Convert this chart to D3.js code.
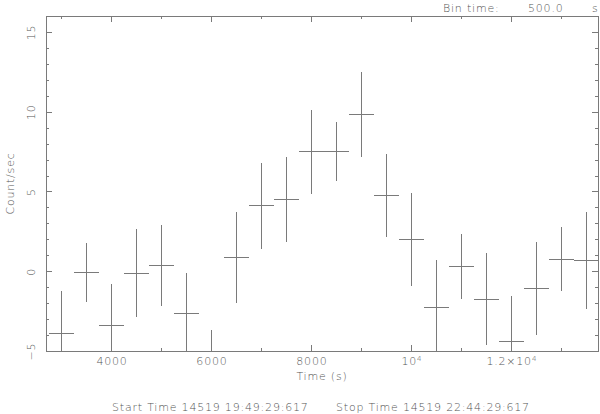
<!DOCTYPE html>
<html>
<head>
<meta charset="utf-8">
<script src="https://cdn.jsdelivr.net/npm/d3@7"></script>
<style>
body{margin:0;background:#fff;}
text{font-family:"DejaVu Sans",sans-serif;font-weight:200;fill:#555;font-size:11px;letter-spacing:0.8px;}
line,rect{shape-rendering:crispEdges;}
</style>
</head>
<body>
<svg id="svg" width="600" height="414"></svg>
<script>
var marginLeft=46, marginTop=16;
var width=598-marginLeft, height=351-marginTop;

// light curve, 500 s bins
var times=[3000,3500,4000,4500,5000,5500,6000,6500,7000,7500,8000,8500,9000,9500,10000,10500,11000,11500,12000,12500,13000,13500];
var rates=[-3.9,-0.06,-3.4,-0.12,0.35,-2.65,-6.5,0.85,4.1,4.48,7.5,7.5,9.8,4.75,1.98,-2.27,0.29,-1.75,-4.38,-1.08,0.75,0.69];
var errors=[2.65,1.85,2.6,2.75,2.55,2.55,2.8,2.87,2.7,2.65,2.63,1.87,2.66,2.63,2.9,2.96,2.06,2.9,2.8,2.9,2.02,3.05];
var halfBin=250;

var xMajor=[4000,6000,8000,10000,12000];
var xMinor=[3000,5000,7000,9000,11000,13000];
var xLabels=["4000","6000","8000","10^4","1.2\u00d710^4"];
var yMajor=[-5,0,5,10,15];
var yMinor=[-4,-3,-2,-1,1,2,3,4,6,7,8,9,11,12,13,14,16];

var x=d3.scaleLinear().domain([2690,13735]).range([0,width]);
var y=d3.scaleLinear().domain([-5,16]).range([height,0]);

var root=d3.select("#svg");
var svg=root.append("g").attr("transform","translate("+marginLeft+","+marginTop+")");

var lineColor="#7a7a7a";

// clip error bars to frame
svg.append("clipPath").attr("id","clip").append("rect").attr("width",width).attr("height",height);

function styleAxis(g){
    g.select(".domain").remove();
    g.selectAll("line").attr("stroke",lineColor);
}

// major + minor ticks, inward, on all 4 sides
svg.append("g").attr("transform","translate(0,"+height+")")
    .call(d3.axisBottom(x).tickValues(xMajor).tickSize(-6).tickPadding(6)
        .tickFormat((d,i)=>xLabels[i]))
    .call(styleAxis)
    .call(g=>g.selectAll("text").attr("fill",null).style("font-size","11px").each(function(){
        var t=d3.select(this), s=t.text();
        if(s.indexOf("^")>=0){
            var parts=s.split("^");
            t.text(null);
            t.append("tspan").text(parts[0]);
            t.append("tspan").attr("dy","-0.5em").style("font-size","7px").text(parts[1]);
        }
    }));
svg.append("g").attr("transform","translate(0,"+height+")")
    .call(d3.axisBottom(x).tickValues(xMinor).tickSize(-3).tickFormat(""))
    .call(styleAxis);
svg.append("g")
    .call(d3.axisTop(x).tickValues(xMajor).tickSize(-6).tickFormat(""))
    .call(styleAxis);
svg.append("g")
    .call(d3.axisTop(x).tickValues(xMinor).tickSize(-3).tickFormat(""))
    .call(styleAxis);

svg.append("g")
    .call(d3.axisLeft(y).tickValues(yMajor).tickSize(-6).tickPadding(0).tickFormat(d3.format("d")))
    .call(styleAxis)
    .call(g=>g.selectAll("text").attr("fill",null)
        .attr("x",null).attr("dy",null).attr("text-anchor","middle")
        .attr("transform","translate(-11,0) rotate(-90)"));
svg.append("g")
    .call(d3.axisLeft(y).tickValues(yMinor).tickSize(-3).tickFormat(""))
    .call(styleAxis);
svg.append("g").attr("transform","translate("+width+",0)")
    .call(d3.axisRight(y).tickValues(yMajor).tickSize(-6).tickFormat(""))
    .call(styleAxis);
svg.append("g").attr("transform","translate("+width+",0)")
    .call(d3.axisRight(y).tickValues(yMinor).tickSize(-3).tickFormat(""))
    .call(styleAxis);

// frame
svg.append("rect").attr("width",width).attr("height",height)
    .attr("fill","none").attr("stroke",lineColor).attr("stroke-width",1);

// error crosses
var pts=times.map((t,i)=>({t:t,r:rates[i],e:errors[i]}));
var marks=svg.append("g").attr("clip-path","url(#clip)");
marks.selectAll("line.xerr").data(pts).enter().append("line")
    .attr("class","xerr")
    .attr("x1",d=>x(d.t-halfBin)).attr("x2",d=>x(d.t+halfBin))
    .attr("y1",d=>y(d.r)).attr("y2",d=>y(d.r))
    .attr("stroke",lineColor);
marks.selectAll("line.yerr").data(pts).enter().append("line")
    .attr("class","yerr")
    .attr("x1",d=>x(d.t)).attr("x2",d=>x(d.t))
    .attr("y1",d=>y(d.r-d.e)).attr("y2",d=>y(d.r+d.e))
    .attr("stroke",lineColor);

// labels
root.append("text").attr("x",marginLeft+width/2).attr("y",380)
    .attr("text-anchor","middle").text("Time (s)");
root.append("text").attr("transform","translate(14,"+(marginTop+height/2)+") rotate(-90)")
    .attr("text-anchor","middle").text("Count/sec");
root.append("text").attr("x",443).attr("y",12).text("Bin time:");
root.append("text").attr("x",528).attr("y",12).text("500.0");
root.append("text").attr("x",592).attr("y",12).text("s");
root.append("text").attr("x",112).attr("y",411).text("Start Time 14519  19:49:29:617");
root.append("text").attr("x",336).attr("y",411).text("Stop Time 14519  22:44:29:617");
</script>
</body>
</html>
